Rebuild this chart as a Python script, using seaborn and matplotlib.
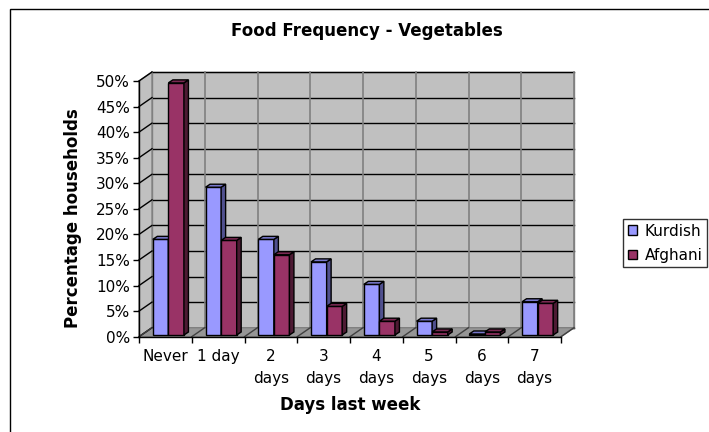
import pandas as pd
import seaborn as sns
import matplotlib.pyplot as plt
import matplotlib.patches as mpatches
import matplotlib.transforms as mtransforms
from matplotlib.colors import to_rgba
from matplotlib.ticker import FuncFormatter, MultipleLocator

plt.rcParams['font.family'] = ['DejaVu Sans']

days = ["Never", "1 day", "2\ndays", "3\ndays", "4\ndays", "5\ndays", "6\ndays", "7\ndays"]
groups = ["Kurdish", "Afghani"]
kurdish = [18.7, 28.9, 18.7, 14.3, 9.9, 2.7, 0.2, 6.5]
afghani = [49.3, 18.5, 15.7, 5.6, 2.7, 0.6, 0.6, 6.2]

front_cols = {"Kurdish": "#9999FF", "Afghani": "#993366"}
side_cols = {"Kurdish": "#50508f", "Afghani": "#4d1a33"}
top_cols = {"Kurdish": "#7878cc", "Afghani": "#7a2952"}

df = pd.DataFrame({
    "day": days * 2,
    "group": ["Kurdish"] * len(days) + ["Afghani"] * len(days),
    "pct": kurdish + afghani,
})

W, H = 709, 432
fig = plt.figure(figsize=(W / 100, H / 100), dpi=100)
ax = fig.add_axes([139 / W, 1 - 336.7 / H, 422 / W, 255.7 / H])
ax.patch.set_visible(False)

sns.barplot(data=df, x="day", y="pct", hue="group", palette=front_cols,
            hue_order=groups, width=0.59, saturation=1, edgecolor="black",
            linewidth=1, legend=False, ax=ax)
bars = sorted(ax.patches, key=lambda p: p.get_x())

ax.set_xlim(-0.5, len(days) - 0.5)
ax.set_ylim(0, 50)

# pixel -> data conversions for the fake 3D depth
px_x = ax.bbox.width / len(days)
px_y = ax.bbox.height / 50
wall_dx, wall_dy = 13 / px_x, 9 / px_y
bar_dx, bar_dy = 4.5 / px_x, 3 / px_y
x0, x1 = -0.5, len(days) - 0.5

wall_c = "#c0c0c0"
floor_c = "#969696"
edge_c = "#808080"

# back wall
ax.add_patch(mpatches.Rectangle((x0 + wall_dx, wall_dy), x1 - x0, 50,
                                facecolor=wall_c, edgecolor=edge_c, lw=1,
                                zorder=0.5, clip_on=False))
# left wall
ax.add_patch(mpatches.Polygon([(x0, 0), (x0, 50), (x0 + wall_dx, 50 + wall_dy),
                               (x0 + wall_dx, wall_dy)], closed=True,
                              facecolor=wall_c, edgecolor=edge_c, lw=1,
                              zorder=0.6, clip_on=False))
# floor
ax.add_patch(mpatches.Polygon([(x0, 0), (x1, 0), (x1 + wall_dx, wall_dy),
                               (x0 + wall_dx, wall_dy)], closed=True,
                              facecolor=floor_c, edgecolor=edge_c, lw=1,
                              zorder=0.6, clip_on=False))

for v in range(0, 55, 5):
    ax.plot([x0 + wall_dx, x1 + wall_dx], [v + wall_dy, v + wall_dy],
            color="black", lw=1, zorder=0.55, clip_on=False)
    ax.plot([x0, x0 + wall_dx], [v, v + wall_dy], color="black", lw=1,
            zorder=0.7, clip_on=False)
for k in range(len(days) + 1):
    xb = x0 + k
    ax.plot([xb + wall_dx, xb + wall_dx], [wall_dy, 50 + wall_dy],
            color=edge_c, lw=1.2, zorder=0.56, clip_on=False)
    ax.plot([xb, xb + wall_dx], [0, wall_dy], color="#404040", lw=1,
            zorder=0.7, clip_on=False)

# bars: shift slightly back and add side / top faces
bar_tr = ax.transData + mtransforms.ScaledTranslation(3 / 100, 1.7 / 100,
                                                      fig.dpi_scale_trans)
for i, p in enumerate(bars):
    bx, bw, bh = p.get_x(), p.get_width(), p.get_height()
    fc = p.get_facecolor()
    grp = min(groups, key=lambda g: sum(abs(a - b) for a, b in zip(fc, to_rgba(front_cols[g]))))
    z = 2 + i * 0.01
    p.set_transform(bar_tr)
    p.set_zorder(z)
    p.set_clip_on(False)
    side = mpatches.Polygon([(bx + bw, 0), (bx + bw + bar_dx, bar_dy),
                             (bx + bw + bar_dx, bh + bar_dy), (bx + bw, bh)],
                            closed=True, facecolor=side_cols[grp],
                            edgecolor="black", lw=1, transform=bar_tr,
                            zorder=z + 0.001, clip_on=False)
    top = mpatches.Polygon([(bx, bh), (bx + bw, bh), (bx + bw + bar_dx, bh + bar_dy),
                            (bx + bar_dx, bh + bar_dy)], closed=True,
                           facecolor=top_cols[grp], edgecolor="black", lw=1,
                           transform=bar_tr, zorder=z + 0.002, clip_on=False)
    ax.add_patch(side)
    ax.add_patch(top)

# axes
for s in ["top", "right"]:
    ax.spines[s].set_visible(False)
for s in ["left", "bottom"]:
    ax.spines[s].set_color("black")
    ax.spines[s].set_linewidth(1)
    ax.spines[s].set_zorder(3)
ax.yaxis.set_major_locator(MultipleLocator(5))
ax.yaxis.set_major_formatter(FuncFormatter(lambda v, _: f"{v:.0f}%"))
ax.tick_params(axis="y", length=4.5, width=1, pad=2, labelsize=11, colors="black")
ax.set_xticks(range(len(days)))
ax.set_xticks([x0 + k for k in range(len(days) + 1)], minor=True)
ax.tick_params(axis="x", which="major", length=0, pad=9, labelsize=11)
ax.tick_params(axis="x", which="minor", length=4.5, width=1)
for lbl in ax.get_xticklabels():
    lbl.set_linespacing(1.55)
    lbl.set_verticalalignment("top")
ax.set_xlabel("")
ax.set_ylabel("")

fig.text(367 / W, 1 - 31 / H, "Food Frequency - Vegetables", ha="center",
         va="center", fontsize=12, fontweight="bold")
fig.text(350 / W, 1 - 405 / H, "Days last week", ha="center", va="center",
         fontsize=12, fontweight="bold")
fig.text(73 / W, 1 - 218 / H, "Percentage households", ha="center",
         va="center", rotation=90, fontsize=12, fontweight="bold")

handles = [mpatches.Patch(facecolor=front_cols[g], edgecolor="black", lw=1, label=g)
           for g in groups]
leg = fig.legend(handles=handles, loc="upper left",
                 bbox_to_anchor=(623 / W, 1 - 219 / H), fontsize=11,
                 frameon=True, fancybox=False, handlelength=0.6,
                 handleheight=0.6, handletextpad=0.5, labelspacing=0.6,
                 borderpad=0.3, borderaxespad=0)
leg.get_frame().set_edgecolor("black")
leg.get_frame().set_linewidth(1)

# chart area border
fig.patches.append(mpatches.Rectangle((10 / W, -0.1), 1.2, 1.1 - 9 / H,
                                      transform=fig.transFigure, fill=False,
                                      edgecolor="black", lw=1))

fig.savefig("out.png", dpi=100)
